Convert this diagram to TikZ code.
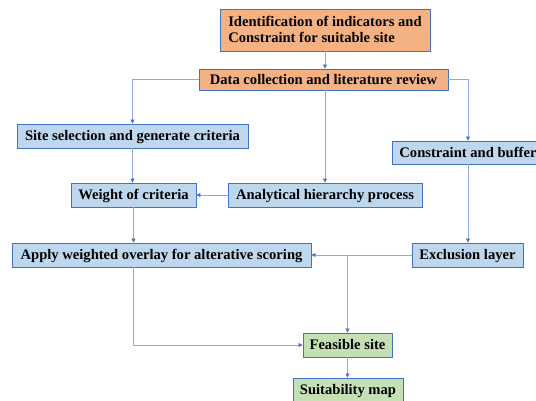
\documentclass[tikz,border=0pt]{standalone}
\usepackage{fontspec}
\setmainfont{Liberation Serif}
\usetikzlibrary{arrows.meta}
\definecolor{boxborder}{HTML}{4472C4}
\definecolor{linecol}{HTML}{8FAADC}
\definecolor{orangefill}{HTML}{F4B183}
\definecolor{bluefill}{HTML}{BDD7EE}
\definecolor{greenfill}{HTML}{C5E0B4}
\tikzset{
  box/.style={draw=boxborder, line width=0.9pt, inner sep=0pt, font=\fontsize{14.6}{16}\selectfont\bfseries, text=black, text height=9.7pt, text depth=0pt},
  obox/.style={box, fill=orangefill},
  bbox/.style={box, fill=bluefill},
  gbox/.style={box, fill=greenfill},
  conn/.style={draw=linecol, line width=0.8pt, -{Triangle[width=4pt,length=4pt,color=boxborder]}}
}
\begin{document}
\begin{tikzpicture}[x=1pt,y=-1pt]
\useasboundingbox (0,0) rectangle (536,401);
\clip (0,0) rectangle (536,401);
\node[obox, minimum width=210pt, minimum height=42pt, align=left, text height=25.7pt] (id) at (325,30) {Identification of indicators and\\Constraint for suitable site};
\node[obox, minimum width=249pt, minimum height=21pt] (data) at (323.5,79.5) {Data collection and literature review};
\node[bbox, minimum width=231pt, minimum height=24pt] (site) at (132.5,136) {Site selection and generate criteria};
\node[bbox, minimum width=125pt, minimum height=24pt] (weight) at (133.5,195) {Weight of criteria};
\node[bbox, minimum width=194pt, minimum height=24pt] (ahp) at (325,195) {Analytical hierarchy process};
\node[bbox, minimum width=152pt, minimum height=23pt] (cons) at (468,152.5) {Constraint and buffer};
\node[bbox, minimum width=299pt, minimum height=24pt] (apply) at (161.5,255) {Apply weighted overlay for alterative scoring};
\node[bbox, minimum width=111pt, minimum height=24pt] (excl) at (467.5,255) {Exclusion layer};
\node[gbox, minimum width=89pt, minimum height=24pt] (feas) at (347.5,345) {Feasible site};
\node[gbox, minimum width=110pt, minimum height=24pt] (suit) at (348,390) {Suitability map};
\coordinate (br) at (feas.north |- excl.west);
\draw[conn] (id.south) -- (id.south |- data.north);
\draw[conn] (data.west) -| (site.north);
\draw[conn] (ahp.north |- data.south) -- (ahp.north);
\draw[conn] (data.east) -| (cons.north);
\draw[conn] (site.south) -- (site.south |- weight.north);
\draw[conn] (ahp.west) -- (weight.east);
\draw[conn] (weight.south) -- (weight.south |- apply.north);
\draw[conn] (cons.south) -- (cons.south |- excl.north);
\draw[conn] (excl.west) -- (apply.east);
\draw[conn] (br) -- (feas.north);
\draw[conn] (weight.south |- apply.south) |- (feas.west);
\draw[conn] (feas.south) -- (feas.south |- suit.north);
\end{tikzpicture}
\end{document}
